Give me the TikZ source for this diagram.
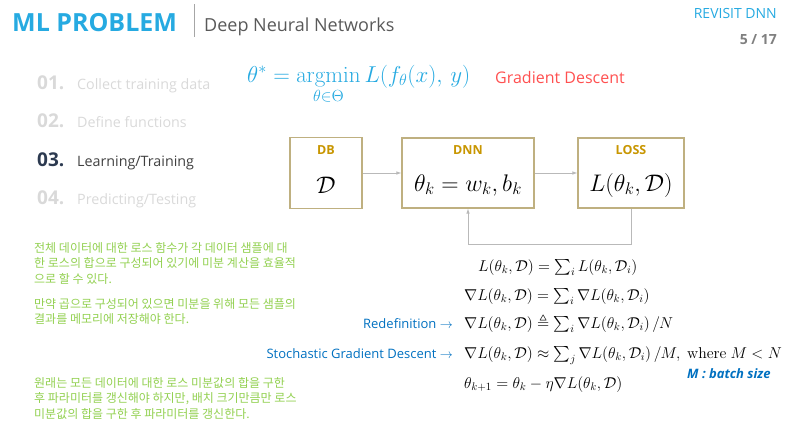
\RequirePackage{fix-cm}
\documentclass[tikz,border=0pt]{standalone}
\usepackage{amsmath}
\usepackage{amssymb}
\usepackage[no-math]{fontspec}
\setmainfont{Open Sans}
\newfontfamily\kr{Noto Sans CJK KR}
\usepackage{tikz}
\usetikzlibrary{arrows.meta}
\definecolor{titleblue}{RGB}{38,170,225}
\definecolor{noteblue}{RGB}{0,112,192}
\definecolor{gdred}{RGB}{255,80,80}
\definecolor{notegreen}{RGB}{146,208,80}
\definecolor{boxline}{RGB}{191,176,128}
\definecolor{boxgold}{RGB}{200,150,0}
\definecolor{listgray}{RGB}{217,217,217}
\definecolor{listdark}{RGB}{44,58,80}
\newcommand{\lossk}[1]{L(\theta_k, #1)}
\newcommand{\gradk}[1]{\nabla L(\theta_k, #1)}
\tikzset{
box/.style={
  draw=boxline,
  line width=1.1pt,
  fill=white
  }
}
\tikzset{
boxlabel/.style={
  text=boxgold,
  font=\bfseries\fontsize{12.5}{15}\selectfont
  }
}
\tikzset{
eqline/.style={
  anchor=base west,
  inner sep=0pt,
  font=\fontsize{15.7}{19}\selectfont
  }
}
\tikzset{
note/.style={
  anchor=north west,
  inner sep=0pt,
  align=left,
  text=notegreen,
  font=\kr\fontsize{12}{15.5}\selectfont
  }
}
\tikzset{
listnum/.style={anchor=base west, inner sep=0pt, font=\bfseries\fontsize{19}{22}\selectfont},
listtxt/.style={anchor=base west, inner sep=0pt, font=\fontsize{14.3}{17}\selectfont}
}
\tikzstyle{flow} = [draw=gray!55,line width=0.7pt,-{Latex[length=5pt,width=3.5pt]}]

\begin{document}
\begin{tikzpicture}[x=1pt, y=-1pt]
	\path[use as bounding box] (0,0) rectangle (793,439);

	%header
	\node (title) at (12,31) [anchor=base west, inner sep=0pt, text=titleblue, font=\bfseries\fontsize{25}{28}\selectfont] {ML PROBLEM};
	\coordinate (sept) at (194,4);
	\coordinate (sepb) at (194,37);
	\draw[gray!70, line width=0.8pt] (sept) -- (sepb);
	\node (subtitle) at (204,31) [anchor=base west, inner sep=0pt, text=black!65, font=\fontsize{18}{21}\selectfont] {Deep Neural Networks};
	\node (revisit) at (777,19) [anchor=base east, inner sep=0pt, text=titleblue, font=\fontsize{14}{17}\selectfont] {REVISIT DNN};
	\node (page) at (777,44) [anchor=base east, inner sep=0pt, text=black!50, font=\bfseries\fontsize{14}{17}\selectfont] {5 / 17};

	%steps
	\node (n1) at (37,89) [listnum, text=listgray] {01.};
	\node (t1) at (77,89) [listtxt, text=listgray] {Collect training data};
	\node (n2) at (37,127.5) [listnum, text=listgray] {02.};
	\node (t2) at (77,127.5) [listtxt, text=listgray] {Define functions};
	\node (n3) at (37,166) [listnum, text=listdark] {03.};
	\node (t3) at (77,166) [listtxt, text=black!75] {Learning/Training};
	\node (n4) at (37,204) [listnum, text=listgray] {04.};
	\node (t4) at (77,204) [listtxt, text=listgray] {Predicting/Testing};

	%objective
	\node (obj) at (247,82) [anchor=base west, inner sep=0pt, text=titleblue, font=\fontsize{23}{27}\selectfont] {$\theta^* = \operatorname*{argmin}\limits_{\theta\in\Theta} L(f_\theta(x),\, y)$};
	\node (gd) at (495,83) [anchor=base west, inner sep=0pt, text=gdred, font=\fontsize{16}{19}\selectfont] {Gradient Descent};

	%boxes
	\node (db) at (326,173) [box, minimum width=72pt, minimum height=71pt] {};
	\node (dnn) at (468,173) [box, minimum width=132pt, minimum height=70pt] {};
	\node (loss) at (631,173) [box, minimum width=106pt, minimum height=70pt] {};
	\node (dblbl) at (326,150) [boxlabel] {DB};
	\node (dnnlbl) at (468,150) [boxlabel] {DNN};
	\node (losslbl) at (631,150) [boxlabel] {LOSS};
	\node (dbtxt) at (326,185) [font=\fontsize{24}{28}\selectfont] {$\mathcal{D}$};
	\node (dnntxt) at (468,185) [font=\fontsize{24}{28}\selectfont] {$\theta_k = w_k, b_k$};
	\node (losstxt) at (631,185) [font=\fontsize{24}{28}\selectfont] {$\lossk{\mathcal{D}}$};
	%edges
	\draw[flow] (db) -- (dnn);
	\draw[flow] (dnn) -- (loss);
	\draw[flow] (loss.south) -- ++(0,36) -| (dnn.south);

	%notes
	\node (note1) at (34,242) [note] {전체 데이터에 대한 로스 함수가 각 데이터 샘플에 대\\한 로스의 합으로 구성되어 있기에 미분 계산을 효율적\\으로 할 수 있다.};
	\node (note2) at (34,298) [note] {만약 곱으로 구성되어 있으면 미분을 위해 모든 샘플의\\결과를 메모리에 저장해야 한다.};
	\node (note3) at (34,377) [note] {원래는 모든 데이터에 대한 로스 미분값의 합을 구한\\후 파라미터를 갱신해야 하지만, 배치 크기만큼만 로스\\미분값의 합을 구한 후 파라미터를 갱신한다.};

	%equations
	\node (eq1) at (478,271) [eqline] {$\lossk{\mathcal{D}} = \textstyle\sum_i \lossk{\mathcal{D}_i}$};
	\node (eq2) at (464,300) [eqline] {$\gradk{\mathcal{D}} = \textstyle\sum_i \gradk{\mathcal{D}_i}$};
	\node (eq3) at (464,328) [eqline] {$\gradk{\mathcal{D}} \triangleq \textstyle\sum_i \gradk{\mathcal{D}_i}\,/N$};
	\node (eq4) at (464,358) [eqline] {$\gradk{\mathcal{D}} \approx \textstyle\sum_j \gradk{\mathcal{D}_i}\,/M,\ \mathrm{where}\ M<N$};
	\node (eq5) at (464,388) [eqline] {$\theta_{k+1} = \theta_k - \eta\gradk{\mathcal{D}}$};
	\node (redef) at (453,328) [anchor=base east, inner sep=0pt, text=noteblue, font=\fontsize{13}{16}\selectfont] {Redefinition $\rightarrow$};
	\node (sgd) at (453,358) [anchor=base east, inner sep=0pt, text=noteblue, font=\fontsize{13}{16}\selectfont] {Stochastic Gradient Descent $\rightarrow$};
	\node (batch) at (687,378) [anchor=base west, inner sep=0pt, text=noteblue, font=\bfseries\itshape\fontsize{13}{16}\selectfont] {M : batch size};
\end{tikzpicture}
\end{document}
